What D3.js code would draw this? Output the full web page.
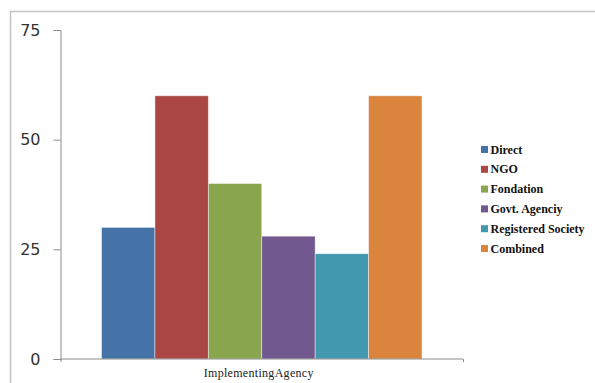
<!DOCTYPE html>
<html>
<head>
<meta charset="utf-8">
<script src="https://cdn.jsdelivr.net/npm/d3@7"></script>
<style>
  html, body { margin: 0; padding: 0; background: #fff; }
  svg { display: block; }
</style>
</head>
<body>
<svg id="chart" width="595" height="383"></svg>
<script>
// Implementing agency counts
const categories = ["Direct", "NGO", "Fondation", "Govt. Agenciy", "Registered Society", "Combined"];
const values = [30, 60, 40, 28, 24, 60];
const colors = ["#4572A7", "#AA4643", "#89A54E", "#71588F", "#4198AF", "#DB843D"];
const yTicks = [0, 25, 50, 75];
const xTitle = "ImplementingAgency";

const svg = d3.select("#chart");

// outer chart frame
svg.append("path")
  .attr("d", "M10.5,383 V11.5 H595")
  .attr("fill", "none")
  .attr("stroke", "#c4c4c4")
  .attr("stroke-width", 1.5);

const plot = { left: 60.5, right: 463, top: 30, bottom: 359 };

const y = d3.scaleLinear().domain([0, 75]).range([plot.bottom, plot.top]);

// single category group, series laid side by side
const group = d3.scaleBand().domain([xTitle]).range([plot.left, plot.right]).paddingInner(0).paddingOuter(0.128);
const inner = d3.scaleBand().domain(categories).range([0, group.bandwidth()]).padding(0);

// y axis
const yAxis = d3.axisLeft(y).tickValues(yTicks).tickSize(7).tickPadding(13);
const yg = svg.append("g").attr("transform", `translate(${plot.left},0)`).call(yAxis);
yg.select(".domain").attr("stroke", "#8c8c8c");
yg.selectAll(".tick line").attr("stroke", "#8c8c8c");
yg.selectAll(".tick text")
  .attr("font-family", "DejaVu Sans, sans-serif")
  .attr("font-size", 16)
  .attr("fill", "#333");

// bars
svg.append("g")
  .selectAll("rect")
  .data(categories)
  .join("rect")
  .attr("x", d => group(xTitle) + inner(d))
  .attr("y", (d, i) => y(values[i]))
  .attr("width", inner.bandwidth())
  .attr("height", (d, i) => y(0) - y(values[i]))
  .attr("fill", (d, i) => colors[i])
  .attr("stroke", "rgba(255,255,255,0.55)")
  .attr("stroke-width", 0.8);

// x axis
const xAxis = d3.axisBottom(d3.scaleLinear().domain([0, 1]).range([plot.left, plot.right]))
  .tickValues([0, 1]).tickSize(3).tickFormat("");
const xg = svg.append("g").attr("transform", `translate(0,${plot.bottom})`).call(xAxis);
xg.select(".domain").attr("stroke", "#8c8c8c").attr("d", `M${plot.left},0H${plot.right}`);
xg.selectAll(".tick line").attr("stroke", "#8c8c8c");

svg.append("text")
  .attr("x", group(xTitle) + group.bandwidth() / 2 - 3)
  .attr("y", 377)
  .attr("text-anchor", "middle")
  .attr("font-family", "Liberation Serif, serif")
  .attr("font-size", 12)
  .attr("letter-spacing", 0.3)
  .attr("fill", "#222")
  .text(xTitle);

// legend
const legend = svg.append("g").attr("transform", "translate(481,149.5)");
const rows = legend.selectAll("g")
  .data(categories)
  .join("g")
  .attr("transform", (d, i) => `translate(0,${i * 19.8})`);
rows.append("rect")
  .attr("x", 0).attr("y", -3.5)
  .attr("width", 7).attr("height", 7)
  .attr("fill", (d, i) => colors[i]);
rows.append("text")
  .attr("x", 9.5)
  .attr("y", 4)
  .attr("font-family", "Liberation Serif, serif")
  .attr("font-weight", "bold")
  .attr("font-size", 12)
  .attr("fill", "#111")
  .text(d => d);
</script>
</body>
</html>
